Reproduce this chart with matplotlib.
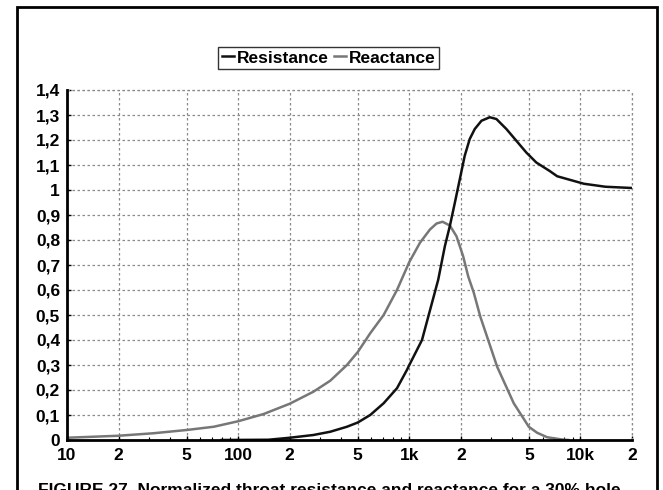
import matplotlib
matplotlib.use("Agg")
import matplotlib.pyplot as plt
from matplotlib.patches import Rectangle
from matplotlib.ticker import FixedLocator, NullFormatter

# ---- data ----
res_freq = [80, 150, 200, 275, 345, 432, 500, 591, 708, 847, 968, 1000, 1186,
            1475, 1613, 1725, 1845, 1972, 2107, 2254, 2412, 2640, 2950, 3226,
            3690, 4220, 4825, 5520, 6610, 7310, 10470, 14000, 20000]
res_vals = [0.0, 0.001, 0.009, 0.02, 0.033, 0.053, 0.07, 0.1, 0.147, 0.207, 0.28,
            0.30, 0.40, 0.641, 0.775, 0.856, 0.949, 1.043, 1.137, 1.204, 1.244,
            1.277, 1.291, 1.284, 1.244, 1.197, 1.15, 1.11, 1.076, 1.055, 1.025,
            1.013, 1.008]

rea_freq = [10, 20, 32, 50, 72, 100, 141, 200, 275, 345, 432, 500, 591, 708, 847,
            1000, 1154, 1320, 1443, 1564, 1725, 1886, 2063, 2207, 2378, 2600,
            3260, 4075, 4990, 5580, 6390, 7800, 8500]
rea_vals = [0.009, 0.017, 0.027, 0.04, 0.053, 0.075, 0.104, 0.145, 0.193, 0.237,
            0.3, 0.352, 0.427, 0.5, 0.6, 0.712, 0.789, 0.842, 0.866, 0.873, 0.858,
            0.815, 0.735, 0.655, 0.59, 0.493, 0.293, 0.147, 0.053, 0.029, 0.011,
            0.002, 0.0]

x_ticks = [10, 20, 50, 100, 200, 500, 1000, 2000, 5000, 10000, 20000]
x_labels = ["10", "2", "5", "100", "2", "5", "1k", "2", "5", "10k", "2"]
y_ticks = [0, 0.1, 0.2, 0.3, 0.4, 0.5, 0.6, 0.7, 0.8, 0.9, 1.0, 1.1, 1.2, 1.3, 1.4]
y_labels = ["0", "0,1", "0,2", "0,3", "0,4", "0,5", "0,6", "0,7", "0,8", "0,9",
            "1", "1,1", "1,2", "1,3", "1,4"]
series_names = ["Resistance", "Reactance"]
caption = "FIGURE 27. Normalized throat resistance and reactance for a 30% hole"

W, H = 663, 490
plt.rcParams["font.family"] = ["Liberation Sans", "DejaVu Sans"]
fig = plt.figure(figsize=(W / 100, H / 100), dpi=100)
fig.patch.set_facecolor("white")

# outer frame
fig.patches.append(Rectangle((17 / W, -0.05), 640 / W, (H - 7) / H + 0.05,
                             transform=fig.transFigure, fill=False,
                             edgecolor="black", linewidth=2.0, clip_on=False))

ax = fig.add_axes([67 / W, (H - 440) / H, (632 - 67) / W, (440 - 90) / H])
ax.set_xscale("log")
ax.set_xlim(10, 20000)
ax.set_ylim(0, 1.4)

ax.xaxis.set_major_locator(FixedLocator(x_ticks))
ax.set_xticklabels(x_labels)
minor = [f * d for d in (10, 100, 1000, 10000) for f in range(2, 10)]
minor = [m for m in minor if 10 < m < 20000 and m not in x_ticks]
ax.xaxis.set_minor_locator(FixedLocator(minor))
ax.xaxis.set_minor_formatter(NullFormatter())
ax.set_yticks(y_ticks)
ax.set_yticklabels(y_labels)

for lab in ax.get_xticklabels() + ax.get_yticklabels():
    lab.set_fontweight("bold")
    lab.set_fontsize(12.5)
ax.tick_params(axis="both", which="major", length=3, width=1, direction="in")
ax.tick_params(axis="x", which="major", pad=6)
ax.tick_params(axis="y", which="major", pad=5)
ax.tick_params(axis="x", which="minor", length=2, width=0.8, direction="in")

grid_kw = dict(color="#8a8a8a", linestyle=(0, (2, 2)), linewidth=0.9)
ax.grid(True, which="major", **grid_kw)
ax.set_axisbelow(True)
for s in ("top", "right"):
    ax.spines[s].set_visible(False)
ax.spines["left"].set_linewidth(2)
ax.spines["bottom"].set_linewidth(2)
ax.axhline(1.4, clip_on=False, **grid_kw)
ax.axvline(20000, clip_on=False, **grid_kw)

l2, = ax.plot(rea_freq, rea_vals, color="#777777", linewidth=1.8, label=series_names[1])
l1, = ax.plot(res_freq, res_vals, color="#111111", linewidth=1.8, label=series_names[0])

leg = fig.legend(handles=[l1, l2], labels=series_names, ncol=2,
                 loc="center", bbox_to_anchor=(328.5 / W, 1 - 58 / H),
                 frameon=True, fancybox=False, handlelength=0.7,
                 handletextpad=0.15, columnspacing=0.3, borderpad=0.2,
                 prop={"weight": "bold", "size": 12.5})
leg.get_frame().set_edgecolor("black")
leg.get_frame().set_linewidth(1.0)

fig.text(38 / W, 1 - 483 / H, caption, ha="left", va="top",
         fontsize=12.5, fontweight="bold")

fig.savefig("out.png", dpi=100)
